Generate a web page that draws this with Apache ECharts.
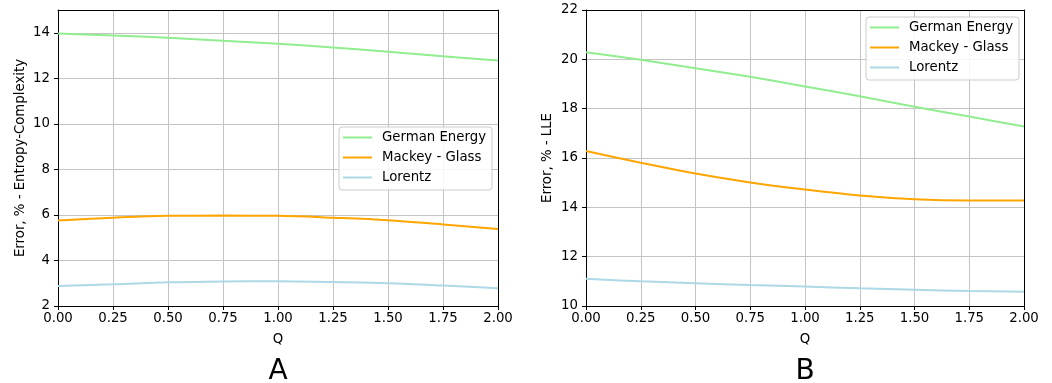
<!DOCTYPE html>
<html>
<head>
<meta charset="utf-8">
<script src="https://cdn.jsdelivr.net/npm/echarts@6/dist/echarts.min.js"></script>
<style>
  html, body { margin: 0; padding: 0; background: #fff; }
  #chart { width: 1052px; height: 383px; }
</style>
</head>
<body>
<div id="chart"></div>
<script>
// Q values shared by both panels
const qValues = [0, 0.25, 0.5, 0.75, 1.0, 1.25, 1.5, 1.75, 2.0];
const seriesNames = ['German Energy', 'Mackey - Glass', 'Lorentz'];
const seriesColors = ['#90ee90', '#ffa500', '#add8e6'];

// Panel A: error of entropy-complexity estimate
const entropyGerman = [13.97, 13.88, 13.78, 13.65, 13.52, 13.35, 13.17, 12.97, 12.78];
const entropyMackey = [5.76, 5.88, 5.96, 5.97, 5.96, 5.88, 5.77, 5.58, 5.38];
const entropyLorentz = [2.88, 2.95, 3.04, 3.08, 3.09, 3.05, 3.00, 2.90, 2.78];

// Panel B: error of largest Lyapunov exponent estimate
const lleGerman = [20.29, 19.98, 19.64, 19.29, 18.90, 18.50, 18.08, 17.68, 17.28];
const lleMackey = [16.28, 15.81, 15.37, 15.01, 14.72, 14.48, 14.33, 14.28, 14.28];
const lleLorentz = [11.10, 11.00, 10.92, 10.85, 10.79, 10.72, 10.66, 10.61, 10.58];

// Tick labels
const xTicks = [0, 0.25, 0.5, 0.75, 1.0, 1.25, 1.5, 1.75, 2.0];
const yTicksA = [2, 4, 6, 8, 10, 12, 14];
const yTicksB = [10, 12, 14, 16, 18, 20, 22];

const FONT = 'DejaVu Sans';
const FS = 13.3;
const chart = echarts.init(document.getElementById('chart'), null, { renderer: 'canvas' });

const pair = (ys) => qValues.map((q, i) => [q, ys[i]]);

function bottomX(gridIndex) {
  return {
    type: 'value', gridIndex, min: 0, max: 2, interval: 0.25,
    name: 'Q', nameLocation: 'middle', nameGap: 27,
    nameTextStyle: { fontFamily: FONT, fontSize: FS, color: '#000' },
    axisLine: { show: true, onZero: false, lineStyle: { color: '#000', width: 1 } },
    axisTick: { show: true, length: 4, lineStyle: { color: '#000' }, customValues: xTicks },
    axisLabel: { fontFamily: FONT, fontSize: FS, color: '#000', margin: 6,
                 customValues: xTicks, formatter: v => v.toFixed(2) },
    splitLine: { show: true, lineStyle: { color: '#c4c4c4', width: 1 } }
  };
}
function leftY(gridIndex, min, max, name, ticks, nameGap) {
  return {
    type: 'value', gridIndex, min, max, interval: 2,
    name, nameLocation: 'middle', nameGap,
    nameTextStyle: { fontFamily: FONT, fontSize: FS, color: '#000' },
    axisLine: { show: true, lineStyle: { color: '#000', width: 1 } },
    axisTick: { show: true, length: 4, lineStyle: { color: '#000' }, customValues: ticks },
    axisLabel: { fontFamily: FONT, fontSize: FS, color: '#000', margin: 8, customValues: ticks },
    splitLine: { show: true, lineStyle: { color: '#c4c4c4', width: 1 } }
  };
}
// Frame edges on the top and right of each plot
function frameX(gridIndex) {
  return { type: 'value', gridIndex, position: 'top', min: 0, max: 2,
    axisLine: { show: true, onZero: false, lineStyle: { color: '#000', width: 1 } },
    axisTick: { show: false }, axisLabel: { show: false }, splitLine: { show: false } };
}
function frameY(gridIndex, min, max) {
  return { type: 'value', gridIndex, position: 'right', min, max,
    axisLine: { show: true, onZero: false, lineStyle: { color: '#000', width: 1 } },
    axisTick: { show: false }, axisLabel: { show: false }, splitLine: { show: false } };
}

function lineSeries(name, color, data, axisIndex) {
  return {
    type: 'line', name, data: pair(data),
    xAxisIndex: axisIndex, yAxisIndex: axisIndex,
    smooth: 0.35, showSymbol: false, symbol: 'none',
    lineStyle: { color, width: 2 }, itemStyle: { color },
    emphasis: { disabled: true }
  };
}

function legendAt(left, top) {
  return {
    left, top, orient: 'vertical',
    data: seriesNames,
    icon: 'rect', itemWidth: 29, itemHeight: 2, itemGap: 5,
    padding: [3, 6, 5, 4],
    backgroundColor: 'rgba(255,255,255,0.85)',
    borderColor: '#cccccc', borderWidth: 1, borderRadius: 3,
    selectedMode: false,
    textStyle: { fontFamily: FONT, fontSize: FS, color: '#000', lineHeight: 15, padding: [0, 0, 0, 5] }
  };
}

chart.setOption({
  animation: false,
  backgroundColor: '#ffffff',
  color: seriesColors,
  title: [
    { text: 'A', left: 273, top: 353, textAlign: 'center',
      textStyle: { fontFamily: FONT, fontSize: 28, fontWeight: 'normal', color: '#000' } },
    { text: 'B', left: 800, top: 353, textAlign: 'center',
      textStyle: { fontFamily: FONT, fontSize: 28, fontWeight: 'normal', color: '#000' } }
  ],
  grid: [
    { left: 58, right: 554, top: 10, bottom: 77 },
    { left: 586, right: 28, top: 10, bottom: 77 }
  ],
  legend: [legendAt(339, 127), legendAt(866, 17)],
  xAxis: [bottomX(0), bottomX(1), frameX(0), frameX(1)],
  yAxis: [
    leftY(0, 2, 15, 'Error, % - Entropy-Complexity', yTicksA, 31),
    leftY(1, 10, 22, 'Error, % - LLE', yTicksB, 32),
    frameY(0, 2, 15),
    frameY(1, 10, 22)
  ],
  series: [
    lineSeries(seriesNames[0], seriesColors[0], entropyGerman, 0),
    lineSeries(seriesNames[1], seriesColors[1], entropyMackey, 0),
    lineSeries(seriesNames[2], seriesColors[2], entropyLorentz, 0),
    lineSeries(seriesNames[0], seriesColors[0], lleGerman, 1),
    lineSeries(seriesNames[1], seriesColors[1], lleMackey, 1),
    lineSeries(seriesNames[2], seriesColors[2], lleLorentz, 1)
  ]
});
</script>
</body>
</html>
